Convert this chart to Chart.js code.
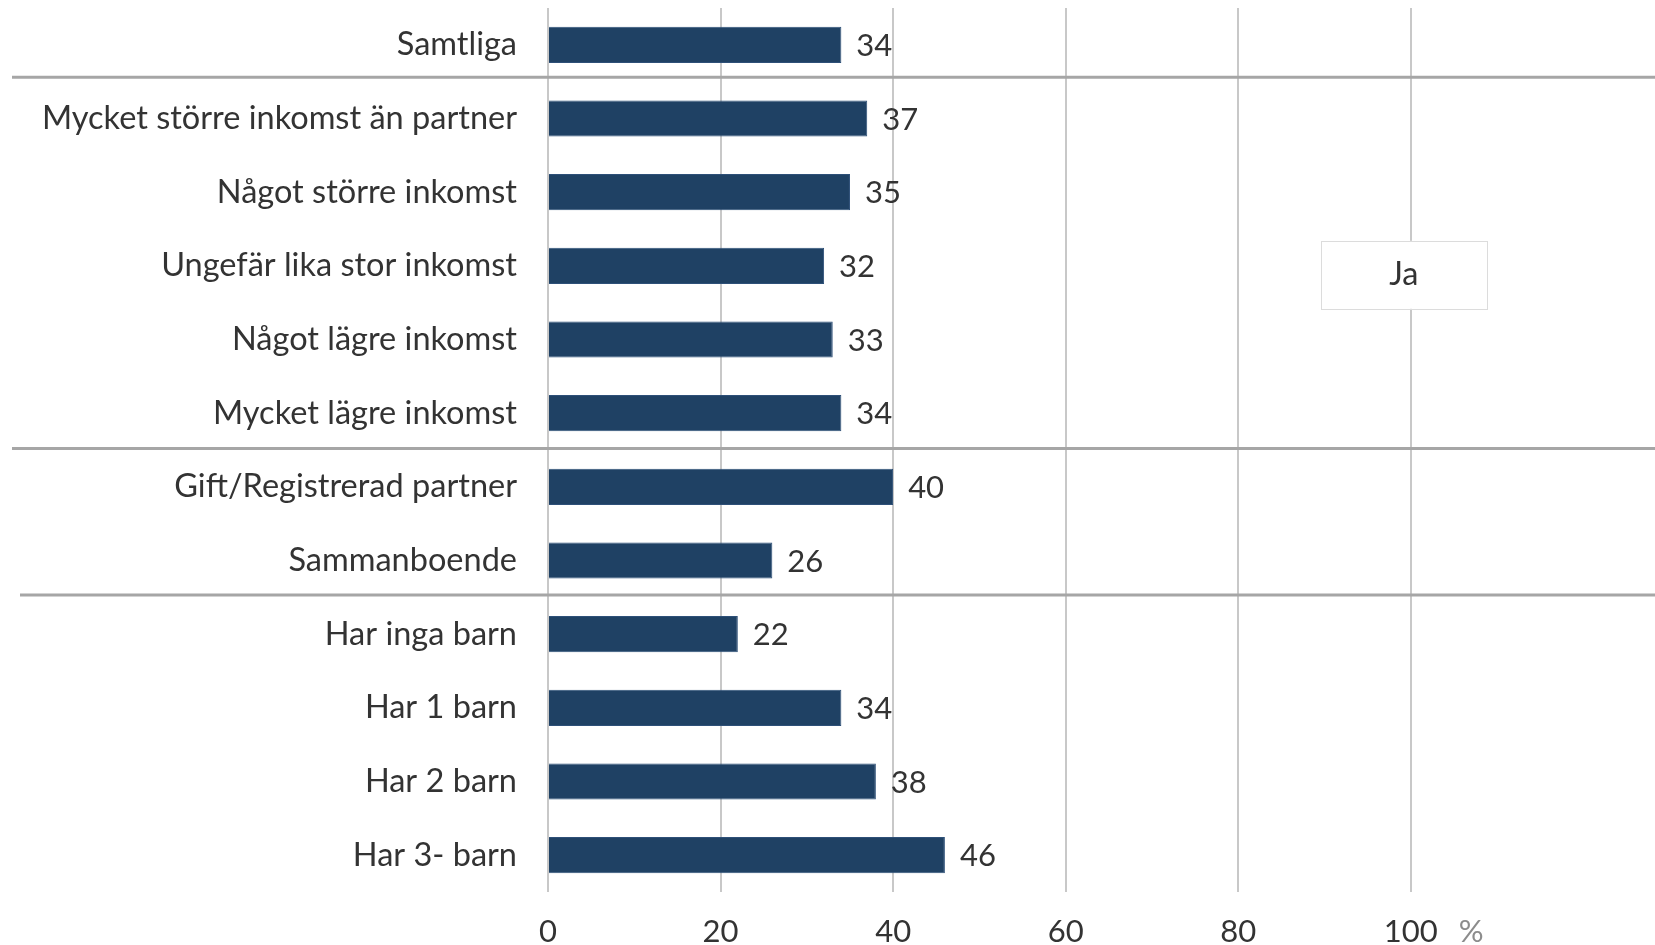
<!DOCTYPE html>
<html>
<head>
<meta charset="utf-8">
<script src="https://cdn.jsdelivr.net/npm/chart.js@4.4.1/dist/chart.umd.min.js"></script>
<style>
  html, body { margin: 0; padding: 0; background: #ffffff; }
  #wrap { width: 1655px; height: 945px; }
</style>
</head>
<body>
<div id="wrap"><canvas id="c" width="1655" height="945"></canvas></div>
<script>
// ---- Data ----
const categories = [
  "Samtliga",
  "Mycket större inkomst än partner",
  "Något större inkomst",
  "Ungefär lika stor inkomst",
  "Något lägre inkomst",
  "Mycket lägre inkomst",
  "Gift/Registrerad partner",
  "Sammanboende",
  "Har inga barn",
  "Har 1 barn",
  "Har 2 barn",
  "Har 3- barn"
];
const seriesName = "Ja";
const jaValues = [34, 37, 35, 32, 33, 34, 40, 26, 22, 34, 38, 46];
const xTickValues = [0, 20, 40, 60, 80, 100];
const unitLabel = "%";
// group separators: drawn just after these category indices (fraction of a row)
const separatorsAfter = [0.44, 5.48, 7.47];

// ---- Style ----
const FONT = "Lato, 'Open Sans', sans-serif";
const CAT_SIZE = 32.5;
const NUM_SIZE = 31;
const TEXT = "#333333";
const BAR = "#1f4164";

const valueLabels = {
  id: "valueLabels",
  afterDatasetsDraw(chart) {
    const ctx = chart.ctx;
    const meta = chart.getDatasetMeta(0);
    ctx.save();
    ctx.font = NUM_SIZE + "px " + FONT;
    ctx.fillStyle = TEXT;
    ctx.textAlign = "left";
    ctx.textBaseline = "middle";
    meta.data.forEach((bar, i) => {
      ctx.fillText(String(jaValues[i]), bar.x + 15, bar.y + 1);
    });
    ctx.restore();
  }
};

const separators = {
  id: "separators",
  afterDatasetsDraw(chart) {
    const ctx = chart.ctx;
    const y = chart.scales.y;
    const step = y.getPixelForValue(1) - y.getPixelForValue(0);
    ctx.save();
    ctx.strokeStyle = "#a6a6a6";
    ctx.lineWidth = 3;
    separatorsAfter.forEach((s, k) => {
      const py = y.getPixelForValue(0) + s * step;
      ctx.beginPath();
      ctx.moveTo(k === 2 ? 20 : 12, py);
      ctx.lineTo(chart.width, py);
      ctx.stroke();
    });
    ctx.restore();
  }
};

const unitAndLegend = {
  id: "unitAndLegend",
  afterDraw(chart) {
    const ctx = chart.ctx;
    const x = chart.scales.x;
    const y = chart.scales.y;
    ctx.save();
    ctx.font = NUM_SIZE + "px " + FONT;
    ctx.fillStyle = "#8c8c8c";
    ctx.textAlign = "center";
    ctx.textBaseline = "middle";
    ctx.fillText(unitLabel, x.getPixelForValue(107), 932);
    // legend box
    const cx = x.getPixelForValue(100) - 7;
    const cy = y.getPixelForValue(3) + 9;
    const w = 166, h = 68;
    ctx.fillStyle = "#ffffff";
    ctx.fillRect(cx - w / 2, cy - h / 2, w, h);
    ctx.strokeStyle = "#dcdcdc";
    ctx.lineWidth = 1;
    ctx.strokeRect(Math.round(cx - w / 2) + 0.5, Math.round(cy - h / 2) + 0.5, w, h);
    ctx.font = CAT_SIZE + "px " + FONT;
    ctx.fillStyle = TEXT;
    ctx.fillText(chart.data.datasets[0].label, cx, cy);
    ctx.restore();
  }
};

new Chart(document.getElementById("c"), {
  type: "bar",
  data: {
    labels: categories,
    datasets: [{
      label: seriesName,
      data: jaValues,
      backgroundColor: BAR,
      borderColor: "#2e5078",
      borderWidth: 1,
      barPercentage: 0.49,
      categoryPercentage: 1.0
    }]
  },
  options: {
    indexAxis: "y",
    responsive: false,
    animation: false,
    layout: { padding: { top: 8, left: 0, right: 0, bottom: 0 } },
    plugins: { legend: { display: false }, tooltip: { enabled: false } },
    scales: {
      x: {
        min: 0,
        max: 128.3,
        afterBuildTicks(scale) {
          scale.ticks = xTickValues.map(v => ({ value: v }));
        },
        afterFit(scale) {
          scale.height = 53;
          scale.paddingLeft = 0;
          scale.paddingRight = 0;
        },
        grid: { color: "#c8c8c8", lineWidth: 2, drawTicks: false },
        border: { display: false },
        ticks: {
          color: TEXT,
          font: { family: FONT, size: NUM_SIZE },
          padding: 21,
          maxRotation: 0
        }
      },
      y: {
        afterFit(scale) {
          scale.width = 548;
          scale.paddingTop = 0;
          scale.paddingBottom = 0;
        },
        grid: { display: false, drawTicks: false },
        border: { display: false },
        ticks: {
          color: TEXT,
          font: { family: FONT, size: CAT_SIZE },
          padding: 31
        }
      }
    }
  },
  plugins: [separators, valueLabels, unitAndLegend]
});
</script>
</body>
</html>
